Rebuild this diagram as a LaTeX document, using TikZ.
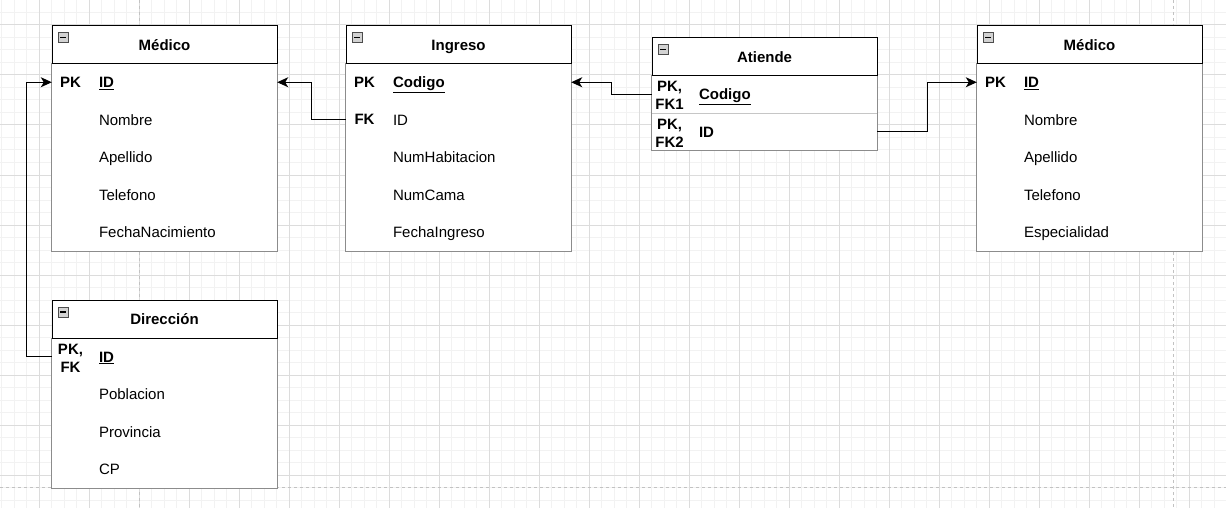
\documentclass[tikz,border=0pt]{standalone}
\usepackage{fontspec}
\setmainfont{Liberation Sans}
\usepackage{tikz}
\usetikzlibrary{arrows.meta}
\usetikzlibrary{backgrounds}
\usetikzlibrary{calc}

\definecolor{minorgrid}{HTML}{F2F2F2}
\definecolor{majorgrid}{HTML}{DCDCDC}
\definecolor{pagebreak}{HTML}{C2C2C2}
\definecolor{bodyline}{HTML}{8C8C8C}

\tikzstyle{head}=[
  draw,
  fill=white,
  line width=1pt,
  minimum width=225pt,
  minimum height=37.5pt,
  inner sep=0pt,
  text height=13.7pt,
  text depth=3pt,
  font=\bfseries\fontsize{15}{18}\selectfont
]
\tikzstyle{row}=[
  minimum height=37.5pt,
  text width=131pt,
  inner xsep=47pt,
  inner ysep=0pt,
  align=left,
  text height=13.7pt,
  text depth=3pt,
  font=\fontsize{15}{18}\selectfont
]
\tikzstyle{key}=[
  inner sep=0pt,
  align=center,
  font=\bfseries\fontsize{15}{18}\selectfont
]
\tikzstyle{body}=[
  draw=bodyline,
  fill=white,
  line width=1pt
]
\tikzstyle{minus}=[
  draw=gray!60!black,
  fill=gray!35,
  minimum size=10pt,
  inner sep=0pt
]
\tikzstyle{divider}=[
  draw=gray!45,
  line width=1pt
]
\tikzstyle{link}=[
  ->,
  >={Stealth[length=11pt, width=10pt, inset=3pt]},
  line width=1.3pt
]
\newcommand{\tablehead}[3]{{
  \node[head] (#1) at (#2) {#3};
  \node[minus] (#1m) at ($(#1.north west) + (11.5, 12)$) {\rule{6pt}{1.3pt}};
}}

\begin{document}
\begin{tikzpicture}[x=1pt, y=-1pt]
      \useasboundingbox (0,0) rectangle (1226,508);

      % grid of the drawing page
      \begin{scope}[on background layer]
        \fill[white] (0,0) rectangle (1226,508);
        \foreach \gx in {1.8,14.3,...,1226} \draw[minorgrid, line width=1pt] (\gx,0) -- (\gx,508);
        \foreach \gy in {0,12.5,...,508} \draw[minorgrid, line width=1pt] (0,\gy) -- (1226,\gy);
        \foreach \gx in {39.3,89.3,...,1226} \draw[majorgrid, line width=1pt] (\gx,0) -- (\gx,508);
        \foreach \gy in {25,75,...,508} \draw[majorgrid, line width=1pt] (0,\gy) -- (1226,\gy);
        \draw[pagebreak, line width=1pt, dash pattern=on 3pt off 3pt] (139.5,0) -- (139.5,508);
        \draw[pagebreak, line width=1pt, dash pattern=on 3pt off 3pt] (1173.3,0) -- (1173.3,508);
        \draw[pagebreak, line width=1pt, dash pattern=on 3pt off 3pt] (0,487.5) -- (1226,487.5);
      \end{scope}

      % Medico (left)
      \tablehead{ml}{164.5,44.75}{Médico}
      \node[row] (ml1) at (164.5,  82.25) {\underline{\textbf{ID}}};
      \node[row] (ml2) at (164.5, 119.75) {Nombre};
      \node[row] (ml3) at (164.5, 157.25) {Apellido};
      \node[row] (ml4) at (164.5, 194.75) {Telefono};
      \node[row] (ml5) at (164.5, 232.25) {FechaNacimiento};
      \node[key] (ml1k) at (70.5, 82.25) {PK};

      % Ingreso
      \tablehead{in}{458.5,44.75}{Ingreso}
      \node[row] (in1) at (458.5,  82.25) {\underline{\textbf{Codigo}}};
      \node[row] (in2) at (458.5, 119.75) {ID};
      \node[row] (in3) at (458.5, 157.25) {NumHabitacion};
      \node[row] (in4) at (458.5, 194.75) {NumCama};
      \node[row] (in5) at (458.5, 232.25) {FechaIngreso};
      \node[key] (in1k) at (364.5,  82.25) {PK};
      \node[key] (in2k) at (364.5, 119.75) {FK};

      % Atiende
      \tablehead{at}{764.5,56.75}{Atiende}
      \node[row] (at1) at (764.5,  94.25) {\underline{\textbf{Codigo}}};
      \node[row] (at2) at (764.5, 131.75) {\textbf{ID}};
      \node[key] (at1k) at (669.5,  95.5) {PK,\\FK1};
      \node[key] (at2k) at (669.5, 133.0) {PK,\\FK2};

      % Medico (right)
      \tablehead{mr}{1089.5,44.75}{Médico}
      \node[row] (mr1) at (1089.5,  82.25) {\underline{\textbf{ID}}};
      \node[row] (mr2) at (1089.5, 119.75) {Nombre};
      \node[row] (mr3) at (1089.5, 157.25) {Apellido};
      \node[row] (mr4) at (1089.5, 194.75) {Telefono};
      \node[row] (mr5) at (1089.5, 232.25) {Especialidad};
      \node[key] (mr1k) at (995.5, 82.25) {PK};

      % Direccion
      \tablehead{di}{164.5,319.25}{Dirección}
      \node[row] (di1) at (164.5, 356.75) {\underline{\textbf{ID}}};
      \node[row] (di2) at (164.5, 394.25) {Poblacion};
      \node[row] (di3) at (164.5, 431.75) {Provincia};
      \node[row] (di4) at (164.5, 469.25) {CP};
      \node[key] (di1k) at (70.5, 358.0) {PK,\\FK};

      % table bodies
      \begin{scope}[on background layer]
        \draw[body] (ml.south west) rectangle (ml5.south east);
        \draw[body] (in.south west) rectangle (in5.south east);
        \draw[body] (at.south west) rectangle (at2.south east);
        \draw[body] (mr.south west) rectangle (mr5.south east);
        \draw[body] (di.south west) rectangle (di4.south east);
      \end{scope}
      \draw[divider] (at1.south west) -- (at1.south east);

      \draw[link] (in2.west) -- ++(-34, 0) |- (ml1.east);
      \draw[link] (at1.west) -- ++(-40, 0) |- (in1.east);
      \draw[link] (at2.east) -- ++(50, 0) |- (mr1.west);
      \draw[link] (di1.west) -- ++(-25, 0) |- (ml1.west);
    \end{tikzpicture}
\end{document}
